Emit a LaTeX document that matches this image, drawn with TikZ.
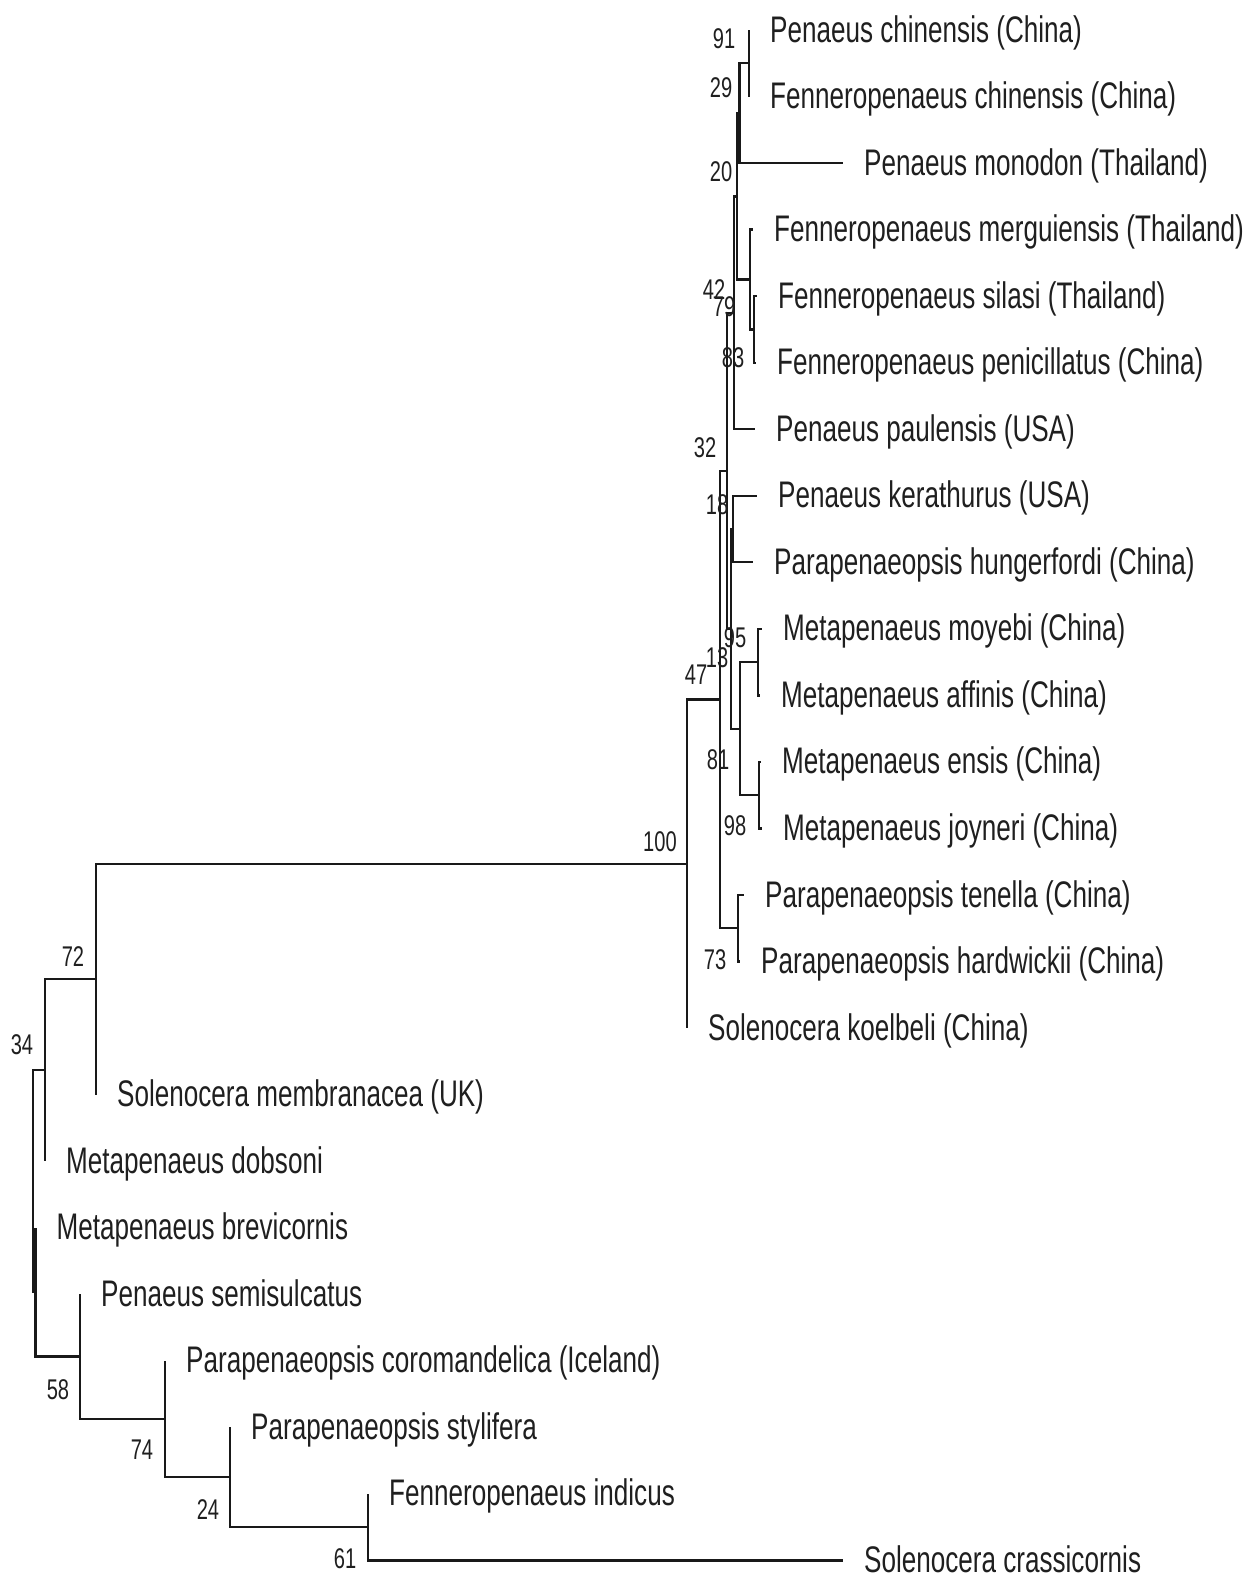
\documentclass[tikz,border=0pt]{standalone}
\usepackage{fontspec}
\setmainfont{Liberation Sans}[FakeStretch=0.705]
\begin{document}
\begin{tikzpicture}[x=1pt,y=-1pt,
  br/.style={line width=2.3pt, draw=black!90},
  leaf/.style={anchor=base west, inner sep=0pt, xshift=21pt, yshift=-12pt, font=\fontsize{37}{40}\selectfont, text=black!88},
  boot/.style={inner sep=0pt, font=\fontsize{28.5}{30}\selectfont, text=black!88}]
\useasboundingbox (0,0) rectangle (1251,1575);
\fill[white] (0,0) rectangle (1251,1575);
% internal nodes
\coordinate (R)    at (33,1181.2);
\coordinate (NB)   at (35.5,1292.2);
\coordinate (N34)  at (45,1070.2);
\coordinate (N72)  at (96,979.2);
\coordinate (N100) at (687,863.8);
\coordinate (N47)  at (720,699.6);
\coordinate (N32)  at (727,470.8);
\coordinate (N42)  at (734,312.8);
\coordinate (N20)  at (737,196.4);
\coordinate (N29)  at (739.5,113.2);
\coordinate (N91)  at (749,63.25);
\coordinate (N79)  at (750,279.5);
\coordinate (N83)  at (754,329.4);
\coordinate (N13)  at (731,628.8);
\coordinate (N18)  at (733,529);
\coordinate (N81)  at (740,728.7);
\coordinate (N95)  at (758,662.1);
\coordinate (N98)  at (759,795.2);
\coordinate (N73)  at (738,928.3);
\coordinate (N58)  at (80,1356.6);
\coordinate (N74)  at (165,1419);
\coordinate (N24)  at (230,1477.2);
\coordinate (N61)  at (368,1527.2);
% tips
\coordinate (t1)  at (749,30);
\coordinate (t2)  at (749,96.5);
\coordinate (t3)  at (843,163.1);
\coordinate (t4)  at (753,229.6);
\coordinate (t5)  at (757,296.2);
\coordinate (t6)  at (756,362.7);
\coordinate (t7)  at (755,429.2);
\coordinate (t8)  at (757,495.8);
\coordinate (t9)  at (753,562.3);
\coordinate (t10) at (762,628.9);
\coordinate (t11) at (760,695.4);
\coordinate (t12) at (761,761.9);
\coordinate (t13) at (762,828.5);
\coordinate (t14) at (744,895);
\coordinate (t15) at (740,961.6);
\coordinate (t16) at (687,1028.1);
\coordinate (t17) at (96,1094.6);
\coordinate (t18) at (45,1161.2);
\coordinate (t19) at (35.5,1227.7);
\coordinate (t20) at (80,1294.3);
\coordinate (t21) at (165,1360.8);
\coordinate (t22) at (230,1427.3);
\coordinate (t23) at (368,1493.9);
\coordinate (t24) at (843,1560.4);
% branches
\draw[br] (R) |- (N34);  \draw[br] (R) |- (NB);
\draw[br] (NB) |- (t19); \draw[br] (NB) |- (N58);
\draw[br] (N34) |- (N72); \draw[br] (N34) |- (t18);
\draw[br] (N72) |- (N100); \draw[br] (N72) |- (t17);
\draw[br] (N100) |- (N47); \draw[br] (N100) |- (t16);
\draw[br] (N47) |- (N32); \draw[br] (N47) |- (N73);
\draw[br] (N32) |- (N42); \draw[br] (N32) |- (N13);
\draw[br] (N42) |- (N20); \draw[br] (N42) |- (t7);
\draw[br] (N20) |- (N29); \draw[br] (N20) |- (N79);
\draw[br] (N29) |- (N91); \draw[br] (N29) |- (t3);
\draw[br] (N91) |- (t1); \draw[br] (N91) |- (t2);
\draw[br] (N79) |- (t4); \draw[br] (N79) |- (N83);
\draw[br] (N83) |- (t5); \draw[br] (N83) |- (t6);
\draw[br] (N13) |- (N18); \draw[br] (N13) |- (N81);
\draw[br] (N18) |- (t8); \draw[br] (N18) |- (t9);
\draw[br] (N81) |- (N95); \draw[br] (N81) |- (N98);
\draw[br] (N95) |- (t10); \draw[br] (N95) |- (t11);
\draw[br] (N98) |- (t12); \draw[br] (N98) |- (t13);
\draw[br] (N73) |- (t14); \draw[br] (N73) |- (t15);
\draw[br] (N58) |- (t20); \draw[br] (N58) |- (N74);
\draw[br] (N74) |- (t21); \draw[br] (N74) |- (N24);
\draw[br] (N24) |- (t22); \draw[br] (N24) |- (N61);
\draw[br] (N61) |- (t23); \draw[br] (N61) |- (t24);
% leaf labels
\node[leaf] (L1)  at (t1)  {Penaeus chinensis (China)};
\node[leaf] (L2)  at (t2)  {Fenneropenaeus chinensis (China)};
\node[leaf] (L3)  at (t3)  {Penaeus monodon (Thailand)};
\node[leaf] (L4)  at (t4)  {Fenneropenaeus merguiensis (Thailand)};
\node[leaf] (L5)  at (t5)  {Fenneropenaeus silasi (Thailand)};
\node[leaf] (L6)  at (t6)  {Fenneropenaeus penicillatus (China)};
\node[leaf] (L7)  at (t7)  {Penaeus paulensis (USA)};
\node[leaf] (L8)  at (t8)  {Penaeus kerathurus (USA)};
\node[leaf] (L9)  at (t9)  {Parapenaeopsis hungerfordi (China)};
\node[leaf] (L10) at (t10) {Metapenaeus moyebi (China)};
\node[leaf] (L11) at (t11) {Metapenaeus affinis (China)};
\node[leaf] (L12) at (t12) {Metapenaeus ensis (China)};
\node[leaf] (L13) at (t13) {Metapenaeus joyneri (China)};
\node[leaf] (L14) at (t14) {Parapenaeopsis tenella (China)};
\node[leaf] (L15) at (t15) {Parapenaeopsis hardwickii (China)};
\node[leaf] (L16) at (t16) {Solenocera koelbeli (China)};
\node[leaf] (L17) at (t17) {Solenocera membranacea (UK)};
\node[leaf] (L18) at (t18) {Metapenaeus dobsoni};
\node[leaf] (L19) at (t19) {Metapenaeus brevicornis};
\node[leaf] (L20) at (t20) {Penaeus semisulcatus};
\node[leaf] (L21) at (t21) {Parapenaeopsis coromandelica (Iceland)};
\node[leaf] (L22) at (t22) {Parapenaeopsis stylifera};
\node[leaf] (L23) at (t23) {Fenneropenaeus indicus};
\node[leaf] (L24) at (t24) {Solenocera crassicornis};
% bootstrap values
\node[boot] (b91)  at (724,39)   {91};
\node[boot] (b29)  at (721,88)   {29};
\node[boot] (b20)  at (721,172)  {20};
\node[boot] (b42)  at (714,290)  {42};
\node[boot] (b79)  at (724,307)  {79};
\node[boot] (b83)  at (733,358)  {83};
\node[boot] (b32)  at (705,448)  {32};
\node[boot] (b18)  at (717,505)  {18};
\node[boot] (b95)  at (735,638)  {95};
\node[boot] (b13)  at (717,658)  {13};
\node[boot] (b47)  at (696,675)  {47};
\node[boot] (b81)  at (718,760)  {81};
\node[boot] (b98)  at (735,826)  {98};
\node[boot] (b100) at (660,842)  {100};
\node[boot] (b73)  at (715,960)  {73};
\node[boot] (b72)  at (73,957)   {72};
\node[boot] (b34)  at (22,1045)  {34};
\node[boot] (b58)  at (58,1390)  {58};
\node[boot] (b74)  at (142,1450) {74};
\node[boot] (b24)  at (208,1510) {24};
\node[boot] (b61)  at (345,1559) {61};
\end{tikzpicture}
\end{document}
